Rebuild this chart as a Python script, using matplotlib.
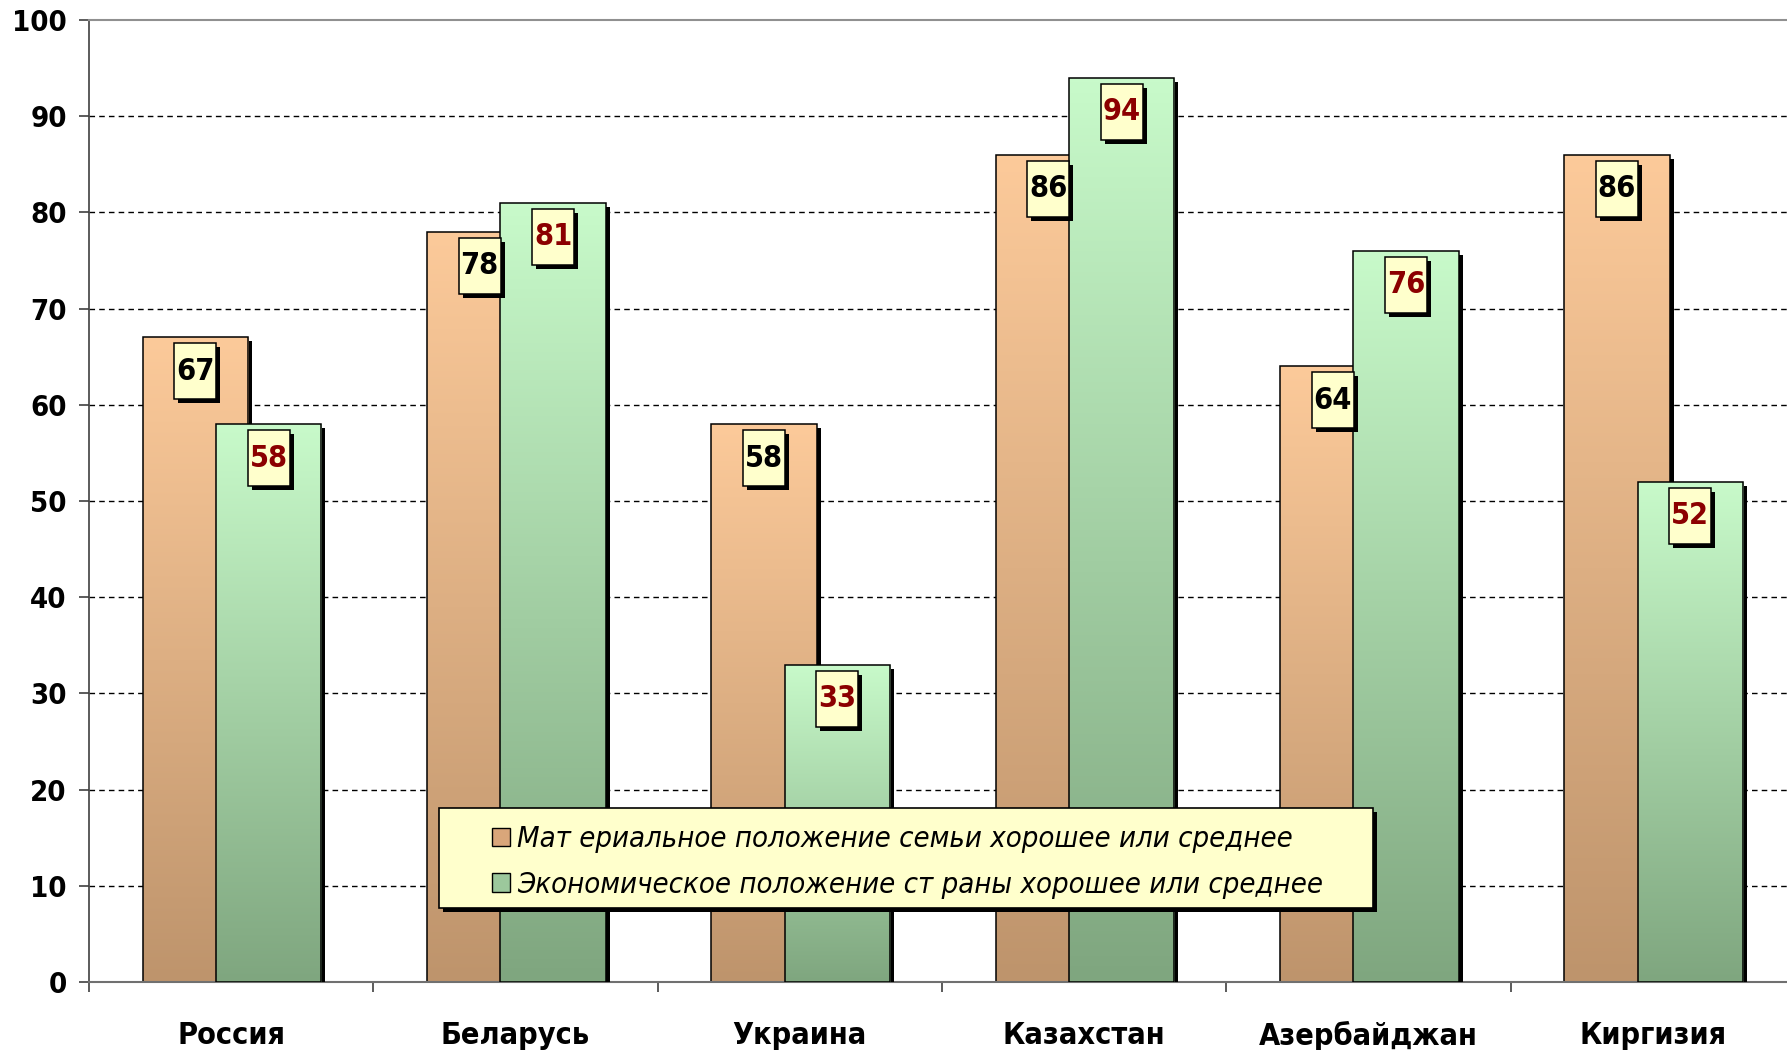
import matplotlib
matplotlib.use('Agg')
import matplotlib.pyplot as plt
import numpy as np
from matplotlib.patches import Rectangle
from matplotlib.colors import LinearSegmentedColormap

countries = ['Россия', 'Беларусь', 'Украина', 'Казахстан', 'Азербайджан', 'Киргизия']
family_values = [67, 78, 58, 86, 64, 86]
country_values = [58, 81, 33, 94, 76, 52]
series_labels = ['Мат ериальное положение семьи хорошее или среднее',
                 'Экономическое положение ст раны хорошее или среднее']
y_ticks = [0, 10, 20, 30, 40, 50, 60, 70, 80, 90, 100]

ORANGE_TOP, ORANGE_BOT = '#FCCA9A', '#BE946C'
GREEN_TOP, GREEN_BOT = '#C8FACA', '#7FA67F'
LABEL_BG = '#FFFFCC'

FONT = ['DejaVu Sans']
plt.rcParams['font.family'] = FONT
plt.rcParams['font.stretch'] = 'condensed'

W, H = 1787, 1050
fig = plt.figure(figsize=(W / 100, H / 100), dpi=100)
ax = fig.add_axes([89 / W, 68 / H, 1706 / W, 962 / H])

bar_w = 0.37
off_orange = -0.126
off_green = 0.132
px_x = 1 / 284.3   # data units per pixel, x
px_y = 1 / 9.62    # data units per pixel, y


def gradient_bar(x_center, h, top, bot, z):
    x0 = x_center - bar_w / 2
    # shadow
    ax.add_patch(Rectangle((x0 + 4 * px_x, 0), bar_w, h - 4 * px_y,
                           facecolor='black', edgecolor='none', zorder=z - 0.2))
    rect = Rectangle((x0, 0), bar_w, h, facecolor='none', edgecolor='black',
                     linewidth=1.1, zorder=z + 0.1)
    ax.add_patch(rect)
    cmap = LinearSegmentedColormap.from_list('g', [bot, top])
    grad = np.linspace(0, 1, 256).reshape(-1, 1)
    im = ax.imshow(grad, extent=[x0, x0 + bar_w, 0, h], origin='lower',
                   cmap=cmap, aspect='auto', zorder=z, interpolation='bicubic')
    im.set_clip_path(rect)


def value_label(x_center, v, color):
    bw, bh = 42 * px_x, 56 * px_y
    top = v - 6 * px_y
    ax.add_patch(Rectangle((x_center - bw / 2 + 4 * px_x, top - bh - 4 * px_y), bw, bh,
                           facecolor='black', edgecolor='none', zorder=6))
    ax.add_patch(Rectangle((x_center - bw / 2, top - bh), bw, bh,
                           facecolor=LABEL_BG, edgecolor='black', linewidth=1.1, zorder=7))
    ax.text(x_center, top - bh / 2, str(v), ha='center', va='center',
            fontsize=22, fontweight='bold', color=color, zorder=8)


x = np.arange(len(countries))
for i in x:
    gradient_bar(i + off_orange, family_values[i], ORANGE_TOP, ORANGE_BOT, 2)
    gradient_bar(i + off_green, country_values[i], GREEN_TOP, GREEN_BOT, 4)
    value_label(i + off_orange, family_values[i], 'black')
    value_label(i + off_green, country_values[i], '#8B0000')

ax.set_xlim(-0.5, 5.5)
ax.set_ylim(0, 100)

for yv in y_ticks[1:-1]:
    ax.axhline(yv, color='black', linestyle=(0, (4, 3)), linewidth=1.0, zorder=1)

ax.set_yticks(y_ticks)
ax.tick_params(axis='y', direction='out', length=7, width=1.2, pad=9,
               labelsize=21, color='#404040')
for lbl in ax.get_yticklabels():
    lbl.set_fontweight('bold')

ax.set_xticks(x)
ax.set_xticklabels(countries, fontsize=22, fontweight='bold')
ax.tick_params(axis='x', length=0, pad=28)
ax.set_xticks(np.arange(-0.5, 6, 1), minor=True)
ax.tick_params(axis='x', which='minor', direction='out', length=7, width=1.2,
               color='#404040')

ax.spines['top'].set_color('#909090')
ax.spines['top'].set_linewidth(1.5)
ax.spines['bottom'].set_color('#707070')
ax.spines['bottom'].set_linewidth(1.5)
ax.spines['left'].set_color('#404040')
ax.spines['left'].set_linewidth(1.2)
ax.spines['right'].set_visible(False)

# legend box
lx0, ly0, lx1, ly1 = 439, 808, 1373, 908
fig.patches.append(Rectangle(((lx0 + 4) / W, 1 - (ly1 + 4) / H), (lx1 - lx0) / W,
                             (ly1 - ly0) / H, transform=fig.transFigure,
                             facecolor='black', edgecolor='none', zorder=9))
fig.patches.append(Rectangle((lx0 / W, 1 - ly1 / H), (lx1 - lx0) / W,
                             (ly1 - ly0) / H, transform=fig.transFigure,
                             facecolor=LABEL_BG, edgecolor='black', linewidth=1.2,
                             zorder=10))
handles = [Rectangle((0, 0), 1, 1, facecolor='#D9A67A', edgecolor='black', linewidth=1),
           Rectangle((0, 0), 1, 1, facecolor='#9CC89C', edgecolor='black', linewidth=1)]
leg = fig.legend(handles, series_labels, loc='upper left',
                 bbox_to_anchor=(466 / W, 1 - 799 / H), frameon=False,
                 handlelength=0.6, handleheight=0.6, handletextpad=0.25,
                 labelspacing=0.6,
                 prop={'family': FONT, 'size': 21, 'style': 'italic', 'stretch': 'condensed'})
leg.set_zorder(11)

fig.savefig('out.png', dpi=100)
